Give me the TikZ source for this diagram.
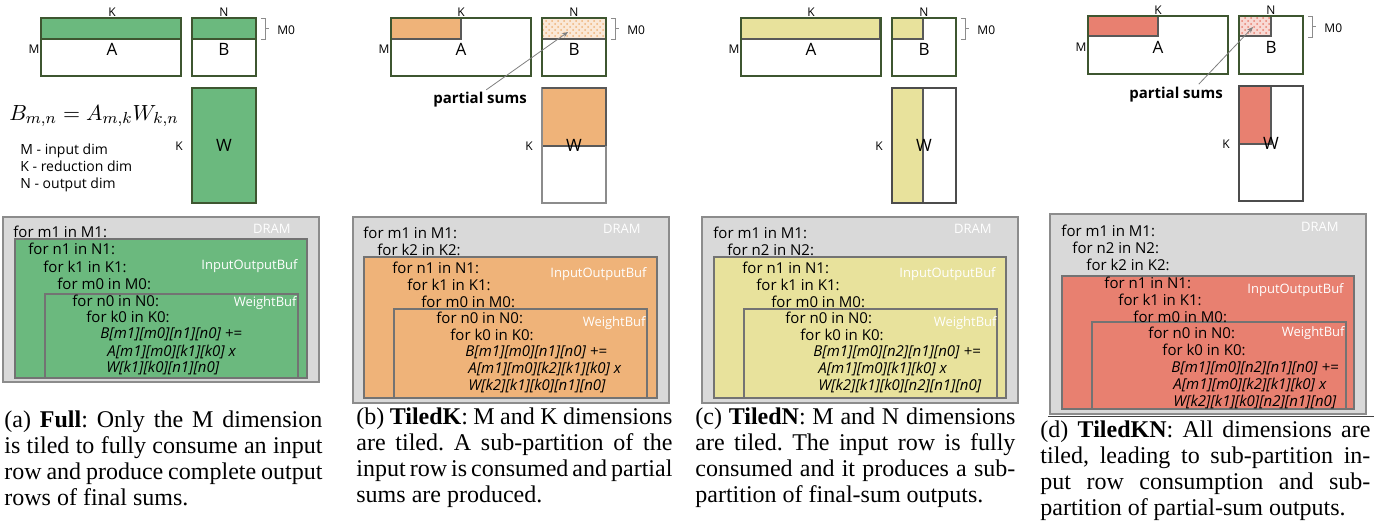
\documentclass[tikz,border=0pt]{standalone}
\usepackage{fontspec}
\setmainfont{Liberation Serif}
\newfontfamily\diafont{Open Sans}
\usetikzlibrary{arrows.meta,patterns}
\definecolor{fullgreen}{RGB}{107,185,126}
\definecolor{tiledkorange}{RGB}{239,179,121}
\definecolor{tilednyellow}{RGB}{232,226,156}
\definecolor{tiledknred}{RGB}{232,128,112}
\definecolor{dramgray}{RGB}{217,217,217}
\definecolor{matline}{RGB}{62,86,48}
\definecolor{boxline}{RGB}{115,115,115}
\frenchspacing

\begin{document}
\begin{tikzpicture}[x=0.5pt,y=-0.5pt,
    mat/.style={draw=matline,line width=0.55pt},
    wmat/.style={draw=black!60,line width=0.55pt},
    part/.style={draw=black!65,line width=0.55pt},
    dimlbl/.style={inner sep=0pt,font=\diafont\fontsize{6}{7}\selectfont},
    matlbl/.style={inner sep=0pt,font=\diafont\fontsize{8.5}{10}\selectfont},
    brk/.style={draw=black!45,line width=0.4pt},
    code/.style={anchor=west,inner sep=0pt,font=\diafont\fontsize{7.5}{8}\selectfont},
    memlbl/.style={anchor=east,inner sep=0pt,text=white,font=\diafont\fontsize{6.5}{7}\selectfont},
    dram/.style={fill=dramgray,draw=black!45,line width=0.55pt},
    buf/.style={draw=boxline,line width=0.55pt},
    pslbl/.style={inner sep=0pt,font=\diafont\bfseries\fontsize{7.5}{9}\selectfont},
    psarrow/.style={draw=black!50,line width=0.4pt,-{Stealth[length=3pt,width=2.4pt]}},
    captext/.style={anchor=west,inner sep=0pt,align=left,font=\fontsize{12}{13}\selectfont}]
  \path[fill=white,use as bounding box] (0,0) rectangle (1374,525);

  % tiles of each schedule
  \fill[fullgreen] (41,18) rectangle (181,39) (192,18) rectangle (256,39) (192,88) rectangle (256,203);
  \draw[mat] (41,39) -- (181,39) (192,39) -- (256,39);
  \filldraw[fill=tiledkorange,part] (391,18) rectangle (461,39);
  \fill[tiledkorange!30] (542,18) rectangle (606,39);
  \fill[pattern=crosshatch dots,pattern color=tiledkorange] (542,18) rectangle (606,39);
  \draw[part] (542,39) -- (606,39);
  \filldraw[fill=tiledkorange,part] (542,88) rectangle (606,146);
  \filldraw[fill=tilednyellow,part] (741,18) rectangle (880,39) (892,18) rectangle (923,39) (892,88) rectangle (923,203);
  \filldraw[fill=tiledknred,part] (1088,16) rectangle (1158,36) (1239,86) rectangle (1271,144);
  \fill[tiledknred!30] (1239,16) rectangle (1271,36);
  \fill[pattern=crosshatch dots,pattern color=tiledknred] (1239,16) rectangle (1271,36);
  \draw[part] (1239,16) rectangle (1271,36);

  % matrices A, B, W
  \foreach \p/\ax/\kx/\dy/\wcol in {a/41/112/0/matline,b/391/461/0/black!45,c/741/811/0/black!70,d/1088/1158/-2/black!70}{
    \draw[mat] (\ax,18+\dy) rectangle ++(140,58);
    \draw[mat] (\ax+151,18+\dy) rectangle ++(64,58);
    \draw[wmat,draw=\wcol] (\ax+151,88+\dy) rectangle ++(64,115);
    \node[dimlbl] (K-\p) at (\kx,12+\dy) {K};
    \node[dimlbl] (N-\p) at (\ax+183,12+\dy) {N};
    \node[dimlbl] (M-\p) at (\ax-7,49+\dy) {M};
    \node[matlbl] (A-\p) at (\kx,49+\dy) {A};
    \node[matlbl] (B-\p) at (\ax+183,49+\dy) {B};
    \node[matlbl] (W-\p) at (\ax+183,145+\dy) {W};
    \node[dimlbl] (KW-\p) at (\ax+138,146+\dy) {K};
    \draw[brk] (\ax+220,18+\dy) -- ++(4,0) -- ++(0,21) -- ++(-4,0) (\ax+224,28.5+\dy) -- ++(4,0);
    \node[dimlbl,anchor=west] (M0-\p) at (\ax+236,30+\dy) {M0};
  }
  \draw[part] (542,88) -- (606,88) -- (606,146);

  \node[inner sep=0pt,font=\fontsize{11}{13}\selectfont] (eq) at (94,116) {$B_{m,n} = A_{m,k}W_{k,n}$};
  \node[anchor=west,inner sep=0pt,align=left,font=\diafont\fontsize{7}{8.5}\selectfont] (dims) at (20,168)
    {M - input dim\\K - reduction dim\\N - output dim};

  \node[pslbl] (ps-b) at (480,100) {partial sums};
  \coordinate (psum-b) at (568,32);
  \draw[psarrow,shorten <=2pt] ([xshift=1.5pt]ps-b.north) -- (psum-b);
  \node[pslbl] (ps-d) at (1176,95) {partial sums};
  \coordinate (psum-d) at (1253,27);
  \draw[psarrow,shorten <=2pt] ([xshift=10pt]ps-d.north) -- (psum-d);

  % loop nests
  \draw[dram] (3,217) rectangle (319,382);
  \filldraw[fill=fullgreen,buf] (15,239) rectangle (307,378);
  \draw[buf] (45,294) rectangle (298,378);
  \node[memlbl] (dram-a) at (291,229) {DRAM};
  \node[memlbl] (iob-a) at (298,266) {InputOutputBuf};
  \node[memlbl] (wb-a) at (297,303) {WeightBuf};
  \foreach \tx/\ty/\txt [count=\i] in {13/232/for m1 in M1:,28/249/for n1 in N1:,43/267/for k1 in K1:,
      57/284/for m0 in M0:,72/301/for n0 in N0:,86/317/for k0 in K0:,100/334/{\itshape B[m1][m0][n1][n0] +=},
      107/352/{\itshape A[m1][m0][k1][k0] x},106/368/{\itshape W[k1][k0][n1][n0]}}
    \node[code] (code-a-\i) at (\tx,\ty) {\txt};

  \draw[dram] (353,217) rectangle (669,403);
  \filldraw[fill=tiledkorange,buf] (364,257) rectangle (657,398);
  \draw[buf] (394,309) rectangle (647,398);
  \node[memlbl] (dram-b) at (641,229) {DRAM};
  \node[memlbl] (iob-b) at (647,274) {InputOutputBuf};
  \node[memlbl] (wb-b) at (646,323) {WeightBuf};
  \foreach \tx/\ty/\txt [count=\i] in {363/233/for m1 in M1:,377/250/for k2 in K2:,392/268/for n1 in N1:,
      407/285/for k1 in K1:,421/302/for m0 in M0:,436/318/for n0 in N0:,450/335/for k0 in K0:,
      465/352/{\itshape B[m1][m0][n1][n0] +=},468/369/{\itshape A[m1][m0][k2][k1][k0] x},
      468/386/{\itshape W[k2][k1][k0][n1][n0]}}
    \node[code] (code-b-\i) at (\tx,\ty) {\txt};

  \draw[dram] (702,217) rectangle (1018,403);
  \filldraw[fill=tilednyellow,buf] (714,257) rectangle (1006,398);
  \draw[buf] (744,309) rectangle (997,398);
  \node[memlbl] (dram-c) at (992,229) {DRAM};
  \node[memlbl] (iob-c) at (996,274) {InputOutputBuf};
  \node[memlbl] (wb-c) at (997,323) {WeightBuf};
  \foreach \tx/\ty/\txt [count=\i] in {713/233/for m1 in M1:,727/250/for n2 in N2:,742/268/for n1 in N1:,
      756/285/for k1 in K1:,771/302/for m0 in M0:,785/318/for n0 in N0:,800/335/for k0 in K0:,
      813/352/{\itshape B[m1][m0][n2][n1][n0] +=},818/369/{\itshape A[m1][m0][k1][k0] x},
      818/386/{\itshape W[k2][k1][k0][n2][n1][n0]}}
    \node[code] (code-c-\i) at (\tx,\ty) {\txt};

  \draw[dram] (1050,214) rectangle (1366,414);
  \filldraw[fill=tiledknred,buf] (1062,276) rectangle (1354,409);
  \draw[buf] (1092,322) rectangle (1346,409);
  \node[memlbl] (dram-d) at (1339,227) {DRAM};
  \node[memlbl] (iob-d) at (1344,290) {InputOutputBuf};
  \node[memlbl] (wb-d) at (1345,333) {WeightBuf};
  \foreach \tx/\ty/\txt [count=\i] in {1061/231/for m1 in M1:,1072/248/for n2 in N2:,1086/265/for k2 in K2:,
      1104/283/for n1 in N1:,1118/300/for k1 in K1:,1133/317/for m0 in M0:,1148/333/for n0 in N0:,
      1162/350/for k0 in K0:,1171/368/{\itshape B[m1][m0][n2][n1][n0] +=},
      1173/385/{\itshape A[m1][m0][k2][k1][k0] x},1173/402/{\itshape W[k2][k1][k0][n2][n1][n0]}}
    \node[code] (code-d-\i) at (\tx,\ty) {\txt};
  \draw[black!75,line width=0.5pt] (1048,416) -- (1374,416);

  % captions
  \node[captext] (cap-a) at (4,458) {\makebox[159pt][s]{(a) \textbf{Full}: Only the M dimension}\\
    \makebox[159pt][s]{is tiled to fully consume an input}\\
    \makebox[159pt][s]{row and produce complete output}\\ rows of final sums.};
  \node[captext] (cap-b) at (356,458) {\makebox[158pt][s]{(b) \textbf{TiledK}: M and K dimensions}\\
    \makebox[158pt][s]{are tiled. A sub-partition of the}\\
    \makebox[158pt][s]{input row is consumed and partial}\\ sums are produced.};
  \node[captext] (cap-c) at (695,458) {\makebox[160pt][s]{(c) \textbf{TiledN}: M and N dimensions}\\
    \makebox[160pt][s]{are tiled. The input row is fully}\\
    \makebox[160pt][s]{consumed and it produces a sub-}\\ partition of final-sum outputs.};
  \node[captext] (cap-d) at (1040,471) {\makebox[165pt][s]{(d) \textbf{TiledKN}: All dimensions are}\\
    \makebox[165pt][s]{tiled, leading to sub-partition in-}\\
    \makebox[165pt][s]{put row consumption and sub-}\\ partition of partial-sum outputs.};
\end{tikzpicture}
\end{document}
